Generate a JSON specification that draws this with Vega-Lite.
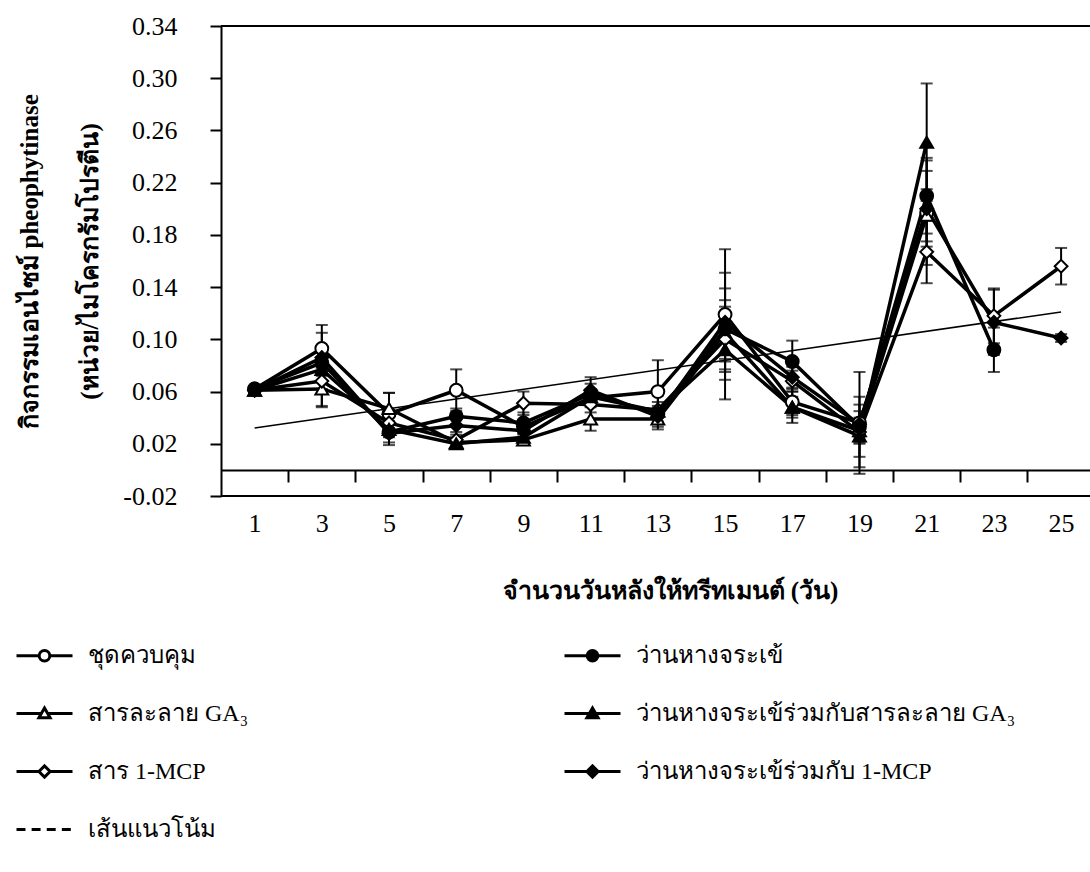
{
  "$schema": "https://vega.github.io/schema/vega-lite/v6.json",
  "autosize": "none",
  "width": 869,
  "height": 470,
  "padding": {"left": 221, "top": 26, "right": 0, "bottom": 376},
  "background": "white",
  "config": {
    "view": {"stroke": null},
    "font": "Liberation Serif",
    "axis": {
      "grid": false,
      "domainColor": "black",
      "tickColor": "black",
      "labelColor": "black",
      "titleColor": "black",
      "labelFont": "Liberation Serif",
      "titleFont": "Liberation Serif"
    },
    "legend": {
      "labelFont": "Liberation Serif",
      "labelFontSize": 24,
      "labelColor": "black",
      "labelLimit": 700
    }
  },
  "datasets": {
    "obs": [
      {"day": 1, "series": "ชุดควบคุม", "value": 0.062, "err": 0.002},
      {"day": 3, "series": "ชุดควบคุม", "value": 0.093, "err": 0.018},
      {"day": 5, "series": "ชุดควบคุม", "value": 0.043, "err": 0.016},
      {"day": 7, "series": "ชุดควบคุม", "value": 0.061, "err": 0.016},
      {"day": 9, "series": "ชุดควบคุม", "value": 0.033, "err": 0.005},
      {"day": 11, "series": "ชุดควบคุม", "value": 0.055, "err": 0.006},
      {"day": 13, "series": "ชุดควบคุม", "value": 0.060, "err": 0.024},
      {"day": 15, "series": "ชุดควบคุม", "value": 0.119, "err": 0.050},
      {"day": 17, "series": "ชุดควบคุม", "value": 0.052, "err": 0.010},
      {"day": 19, "series": "ชุดควบคุม", "value": 0.036, "err": 0.039},
      {"day": 21, "series": "ชุดควบคุม", "value": 0.197, "err": 0.040},

      {"day": 1, "series": "สารละลาย GA₃", "value": 0.061, "err": 0.002},
      {"day": 3, "series": "สารละลาย GA₃", "value": 0.062, "err": 0.014},
      {"day": 5, "series": "สารละลาย GA₃", "value": 0.047, "err": 0.012},
      {"day": 7, "series": "สารละลาย GA₃", "value": 0.021, "err": 0.004},
      {"day": 9, "series": "สารละลาย GA₃", "value": 0.023, "err": 0.004},
      {"day": 11, "series": "สารละลาย GA₃", "value": 0.039, "err": 0.009},
      {"day": 13, "series": "สารละลาย GA₃", "value": 0.039, "err": 0.008},
      {"day": 15, "series": "สารละลาย GA₃", "value": 0.105, "err": 0.020},
      {"day": 17, "series": "สารละลาย GA₃", "value": 0.048, "err": 0.012},
      {"day": 19, "series": "สารละลาย GA₃", "value": 0.030, "err": 0.010},
      {"day": 21, "series": "สารละลาย GA₃", "value": 0.195, "err": 0.020},

      {"day": 1, "series": "สาร 1-MCP", "value": 0.061, "err": 0.002},
      {"day": 3, "series": "สาร 1-MCP", "value": 0.068, "err": 0.006},
      {"day": 5, "series": "สาร 1-MCP", "value": 0.036, "err": 0.006},
      {"day": 7, "series": "สาร 1-MCP", "value": 0.023, "err": 0.004},
      {"day": 9, "series": "สาร 1-MCP", "value": 0.051, "err": 0.009},
      {"day": 11, "series": "สาร 1-MCP", "value": 0.050, "err": 0.006},
      {"day": 13, "series": "สาร 1-MCP", "value": 0.046, "err": 0.006},
      {"day": 15, "series": "สาร 1-MCP", "value": 0.100, "err": 0.017},
      {"day": 17, "series": "สาร 1-MCP", "value": 0.068, "err": 0.008},
      {"day": 19, "series": "สาร 1-MCP", "value": 0.029, "err": 0.008},
      {"day": 21, "series": "สาร 1-MCP", "value": 0.167, "err": 0.024},
      {"day": 23, "series": "สาร 1-MCP", "value": 0.118, "err": 0.021},
      {"day": 25, "series": "สาร 1-MCP", "value": 0.156, "err": 0.014},

      {"day": 1, "series": "ว่านหางจระเข้", "value": 0.062, "err": 0.002},
      {"day": 3, "series": "ว่านหางจระเข้", "value": 0.082, "err": 0.010},
      {"day": 5, "series": "ว่านหางจระเข้", "value": 0.029, "err": 0.008},
      {"day": 7, "series": "ว่านหางจระเข้", "value": 0.041, "err": 0.006},
      {"day": 9, "series": "ว่านหางจระเข้", "value": 0.036, "err": 0.008},
      {"day": 11, "series": "ว่านหางจระเข้", "value": 0.058, "err": 0.008},
      {"day": 13, "series": "ว่านหางจระเข้", "value": 0.043, "err": 0.006},
      {"day": 15, "series": "ว่านหางจระเข้", "value": 0.108, "err": 0.031},
      {"day": 17, "series": "ว่านหางจระเข้", "value": 0.083, "err": 0.016},
      {"day": 19, "series": "ว่านหางจระเข้", "value": 0.033, "err": 0.023},
      {"day": 21, "series": "ว่านหางจระเข้", "value": 0.210, "err": 0.029},
      {"day": 23, "series": "ว่านหางจระเข้", "value": 0.092, "err": 0.017},

      {"day": 1, "series": "ว่านหางจระเข้ร่วมกับสารละลาย GA₃", "value": 0.061, "err": 0.002},
      {"day": 3, "series": "ว่านหางจระเข้ร่วมกับสารละลาย GA₃", "value": 0.077, "err": 0.028},
      {"day": 5, "series": "ว่านหางจระเข้ร่วมกับสารละลาย GA₃", "value": 0.031, "err": 0.006},
      {"day": 7, "series": "ว่านหางจระเข้ร่วมกับสารละลาย GA₃", "value": 0.020, "err": 0.004},
      {"day": 9, "series": "ว่านหางจระเข้ร่วมกับสารละลาย GA₃", "value": 0.025, "err": 0.004},
      {"day": 11, "series": "ว่านหางจระเข้ร่วมกับสารละลาย GA₃", "value": 0.056, "err": 0.006},
      {"day": 13, "series": "ว่านหางจระเข้ร่วมกับสารละลาย GA₃", "value": 0.045, "err": 0.012},
      {"day": 15, "series": "ว่านหางจระเข้ร่วมกับสารละลาย GA₃", "value": 0.092, "err": 0.038},
      {"day": 17, "series": "ว่านหางจระเข้ร่วมกับสารละลาย GA₃", "value": 0.048, "err": 0.008},
      {"day": 19, "series": "ว่านหางจระเข้ร่วมกับสารละลาย GA₃", "value": 0.026, "err": 0.024},
      {"day": 21, "series": "ว่านหางจระเข้ร่วมกับสารละลาย GA₃", "value": 0.251, "err": 0.045},

      {"day": 1, "series": "ว่านหางจระเข้ร่วมกับ 1-MCP", "value": 0.061, "err": 0.002},
      {"day": 3, "series": "ว่านหางจระเข้ร่วมกับ 1-MCP", "value": 0.086, "err": 0.008},
      {"day": 5, "series": "ว่านหางจระเข้ร่วมกับ 1-MCP", "value": 0.028, "err": 0.009},
      {"day": 7, "series": "ว่านหางจระเข้ร่วมกับ 1-MCP", "value": 0.034, "err": 0.005},
      {"day": 9, "series": "ว่านหางจระเข้ร่วมกับ 1-MCP", "value": 0.030, "err": 0.005},
      {"day": 11, "series": "ว่านหางจระเข้ร่วมกับ 1-MCP", "value": 0.061, "err": 0.010},
      {"day": 13, "series": "ว่านหางจระเข้ร่วมกับ 1-MCP", "value": 0.041, "err": 0.006},
      {"day": 15, "series": "ว่านหางจระเข้ร่วมกับ 1-MCP", "value": 0.113, "err": 0.038},
      {"day": 17, "series": "ว่านหางจระเข้ร่วมกับ 1-MCP", "value": 0.071, "err": 0.008},
      {"day": 19, "series": "ว่านหางจระเข้ร่วมกับ 1-MCP", "value": 0.035, "err": 0.010},
      {"day": 21, "series": "ว่านหางจระเข้ร่วมกับ 1-MCP", "value": 0.200, "err": 0.029},
      {"day": 23, "series": "ว่านหางจระเข้ร่วมกับ 1-MCP", "value": 0.113, "err": 0.025},
      {"day": 25, "series": "ว่านหางจระเข้ร่วมกับ 1-MCP", "value": 0.101, "err": 0.003}
    ],
    "trend": [
      {"day": 1, "value": 0.032},
      {"day": 25, "value": 0.121}
    ]
  },
  "layer": [
    {
      "data": {"values": [{}]},
      "mark": {"type": "rule", "color": "black", "strokeWidth": 2},
      "encoding": {"y": {"datum": 0.34, "type": "quantitative", "scale": {"domain": [-0.02, 0.34], "nice": false, "zero": false}}}
    },
    {
      "data": {"values": [{}]},
      "mark": {"type": "rule", "color": "black", "strokeWidth": 2},
      "encoding": {"y": {"datum": -0.02, "type": "quantitative"}}
    },
    {
      "data": {"name": "obs"},
      "mark": {"type": "errorbar", "color": "black", "thickness": 2, "ticks": {"size": 12, "thickness": 2, "color": "black"}},
      "encoding": {
        "x": {"field": "day", "type": "quantitative", "title": "จำนวนวันหลังให้ทรีทเมนต์ (วัน)", "scale": {"domain": [0, 25.86], "nice": false, "zero": false}},
        "y": {"field": "value", "type": "quantitative", "title": ["กิจกรรมเอนไซม์ pheophytinase", "(หน่วย/ไมโครกรัมโปรตีน)"]},
        "yError": {"field": "err"},
        "detail": {"field": "series", "type": "nominal"}
      }
    },
    {
      "data": {"name": "obs"},
      "mark": {"type": "line", "color": "black", "strokeWidth": 3.5},
      "encoding": {
        "x": {
          "field": "day", "type": "quantitative",
          "scale": {"domain": [0, 25.86], "nice": false, "zero": false},
          "axis": {
            "orient": "bottom",
            "offset": -26,
            "values": [1, 3, 5, 7, 9, 11, 13, 15, 17, 19, 21, 23, 25],
            "format": "d",
            "labelOverlap": false,
            "labelFlush": false,
            "ticks": true,
            "tickSize": 12,
            "tickWidth": 2,
            "tickOffset": 33.6,
            "labelOffset": -33.6,
            "domain": true,
            "domainWidth": 2,
            "labelFontSize": 26,
            "labelPadding": 28,
            "title": "จำนวนวันหลังให้ทรีทเมนต์ (วัน)",
            "titleFontSize": 25,
            "titleFontWeight": "bold",
            "titleX": 449,
            "titleY": 120,
            "titleBaseline": "middle",
            "titleAlign": "center"
          }
        },
        "y": {
          "field": "value", "type": "quantitative",
          "scale": {"domain": [-0.02, 0.34], "nice": false, "zero": false},
          "axis": {
            "values": [-0.02, 0.02, 0.06, 0.1, 0.14, 0.18, 0.22, 0.26, 0.3, 0.34],
            "labelExpr": "replace(format(datum.value, '.2f'), '\u2212', '-')",
            "tickSize": 11,
            "tickWidth": 2,
            "domainWidth": 2,
            "labelFontSize": 26,
            "labelPadding": 33,
            "title": ["กิจกรรมเอนไซม์ pheophytinase", "(หน่วย/ไมโครกรัมโปรตีน)"],
            "titleFontSize": 25,
            "titleFontWeight": "bold",
            "titleLineHeight": 60,
            "titleAngle": 270,
            "titleX": -179,
            "titleY": 235,
            "titleAlign": "center",
            "titleBaseline": "bottom"
          }
        },
        "detail": {"field": "series", "type": "nominal"}
      }
    },
    {
      "data": {"name": "trend"},
      "mark": {"type": "line", "color": "black", "strokeWidth": 1.5},
      "encoding": {
        "x": {"field": "day", "type": "quantitative"},
        "y": {"field": "value", "type": "quantitative"}
      }
    },
    {
      "data": {"name": "obs"},
      "mark": {"type": "point", "filled": true, "stroke": "black", "strokeWidth": 2, "size": 165, "opacity": 1},
      "encoding": {
        "x": {"field": "day", "type": "quantitative"},
        "y": {"field": "value", "type": "quantitative"},
        "shape": {
          "field": "series", "type": "nominal", "legend": null,
          "scale": {
            "domain": ["ชุดควบคุม", "สารละลาย GA₃", "สาร 1-MCP", "ว่านหางจระเข้", "ว่านหางจระเข้ร่วมกับสารละลาย GA₃", "ว่านหางจระเข้ร่วมกับ 1-MCP"],
            "range": ["circle", "triangle-up", "diamond", "circle", "triangle-up", "diamond"]
          }
        },
        "fill": {
          "field": "series", "type": "nominal", "legend": null,
          "scale": {
            "domain": ["ชุดควบคุม", "สารละลาย GA₃", "สาร 1-MCP", "ว่านหางจระเข้", "ว่านหางจระเข้ร่วมกับสารละลาย GA₃", "ว่านหางจระเข้ร่วมกับ 1-MCP"],
            "range": ["white", "white", "white", "black", "black", "black"]
          }
        }
      }
    },
    {
      "data": {"name": "obs"},
      "transform": [{"filter": "datum.day > 25"}],
      "mark": {"type": "point", "filled": true, "stroke": "black", "strokeWidth": 3, "size": 3136, "opacity": 1},
      "encoding": {
        "shape": {
          "field": "series", "type": "nominal",
          "scale": {
            "domain": ["ชุดควบคุม", "สารละลาย GA₃", "สาร 1-MCP", "เส้นแนวโน้ม", "ว่านหางจระเข้", "ว่านหางจระเข้ร่วมกับสารละลาย GA₃", "ว่านหางจระเข้ร่วมกับ 1-MCP"],
            "range": [
              "M-1,0L-0.19,0M0.19,0L1,0M-0.19,0A0.19,0.19 0 1,1 0.19,0A0.19,0.19 0 1,1 -0.19,0Z",
              "M-1,0L-0.11,0M0.11,0L1,0M0,-0.2L0.2,0.15L-0.2,0.15Z",
              "M-1,0L-0.2,0M0.2,0L1,0M-0.2,0L0,-0.2L0.2,0L0,0.2Z",
              "M-1,0L-0.68,0M-0.46,0L-0.14,0M0.08,0L0.4,0M0.62,0L0.94,0",
              "M-1,0L-0.19,0M0.19,0L1,0M-0.19,0A0.19,0.19 0 1,1 0.19,0A0.19,0.19 0 1,1 -0.19,0Z",
              "M-1,0L-0.11,0M0.11,0L1,0M0,-0.2L0.2,0.15L-0.2,0.15Z",
              "M-1,0L-0.2,0M0.2,0L1,0M-0.2,0L0,-0.2L0.2,0L0,0.2Z"
            ]
          },
          "legend": {
            "title": null,
            "orient": "none",
            "legendX": -206,
            "legendY": 600,
            "columns": 2,
            "columnPadding": 309,
            "rowPadding": 16,
            "padding": 0,
            "symbolSize": 3136,
            "symbolOpacity": 1,
            "symbolStrokeWidth": 3,
            "labelOffset": 14,
            "encode": {
              "symbols": {
                "update": {
                  "stroke": {"value": "black"},
                  "strokeWidth": {"value": 3},
                  "size": {"value": 3136},
                  "opacity": {"value": 1}
                }
              }
            }
          }
        },
        "fill": {
          "field": "series", "type": "nominal",
          "scale": {
            "domain": ["ชุดควบคุม", "สารละลาย GA₃", "สาร 1-MCP", "เส้นแนวโน้ม", "ว่านหางจระเข้", "ว่านหางจระเข้ร่วมกับสารละลาย GA₃", "ว่านหางจระเข้ร่วมกับ 1-MCP"],
            "range": ["white", "white", "white", "white", "black", "black", "black"]
          },
          "legend": {
            "title": null,
            "orient": "none",
            "legendX": -206,
            "legendY": 600,
            "columns": 2,
            "columnPadding": 309,
            "rowPadding": 16,
            "padding": 0,
            "symbolSize": 3136,
            "symbolOpacity": 1,
            "symbolStrokeWidth": 3,
            "labelOffset": 14,
            "encode": {
              "symbols": {
                "update": {
                  "stroke": {"value": "black"},
                  "strokeWidth": {"value": 3},
                  "size": {"value": 3136},
                  "opacity": {"value": 1}
                }
              }
            }
          }
        }
      }
    }
  ],
  "resolve": {
    "scale": {"shape": "independent", "fill": "independent"}
  }
}
